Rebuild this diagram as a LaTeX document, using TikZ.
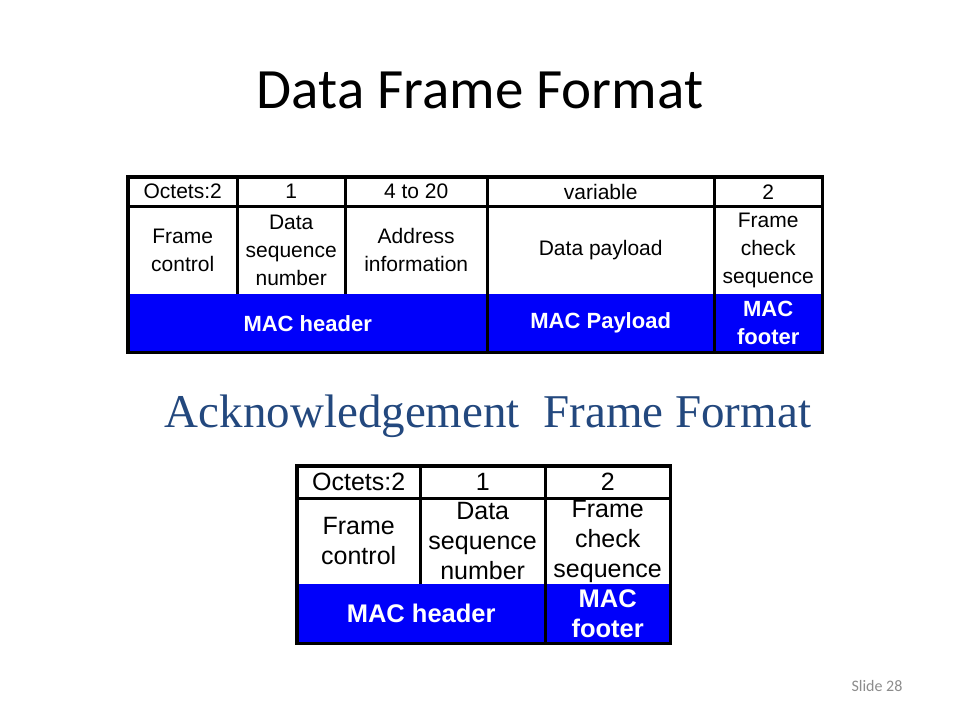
\documentclass[tikz,border=0pt]{standalone}
\usepackage{fontspec}
\setmainfont{Liberation Sans}
\newfontfamily\titlefont{Carlito}
\newfontfamily\serifttl{Liberation Serif}
\definecolor{ackblue}{RGB}{35,72,126}
\definecolor{slidegray}{RGB}{140,140,140}
\definecolor{macblue}{RGB}{0,0,250}
\begin{document}
\begin{tikzpicture}[x=1pt,y=-1pt,
  cell/.style={rectangle,inner sep=0pt,anchor=north west,align=center},
  tcell/.style={cell,font=\fontsize{21}{28}\selectfont},
  tblue/.style={cell,fill=macblue,text=white,font=\fontsize{22}{28}\bfseries\selectfont},
  bcell/.style={cell,font=\fontsize{25}{30}\selectfont},
  bblue/.style={cell,fill=macblue,text=white,font=\fontsize{25.5}{30}\bfseries\selectfont},
  grid/.style={line width=3pt,black},
  frame/.style={line width=3.2pt,black}]
\useasboundingbox[fill=white] (0,0) rectangle (960,720);

% Titles
\node[anchor=base,inner sep=0pt,font=\titlefont\fontsize{57}{60}\selectfont] (title) at (480,108) {Data Frame Format};
\node[anchor=base,inner sep=0pt,text=ackblue,font=\serifttl\fontsize{47}{50}\selectfont] (acktitle) at (488,427) {Acknowledgement\ \ Frame Format};
\node[anchor=base,inner sep=0pt,text=slidegray,font=\titlefont\fontsize{16}{18}\selectfont] (slideno) at (877,691) {Slide 28};

% ---------- Data frame table ----------
% row 1
\node[tcell,minimum width=109pt,minimum height=29pt] (a1) at (128,177) {Octets:2};
\node[tcell,minimum width=108pt,minimum height=29pt] (a2) at (237,177) {1};
\node[tcell,minimum width=142pt,minimum height=29pt] (a3) at (345,177) {4 to 20};
\node[tcell,minimum width=227pt,minimum height=29pt] (a4) at (487,177) {variable};
\node[tcell,minimum width=108pt,minimum height=29pt] (a5) at (714,177) {2};
% row 2
\node[tcell,minimum width=109pt,minimum height=88pt] (b1) at (128,206) {Frame\\control};
\node[tcell,minimum width=108pt,minimum height=88pt] (b2) at (237,206) {Data\\sequence\\number};
\node[tcell,minimum width=142pt,minimum height=88pt] (b3) at (345,206) {Address\\information};
\node[tcell,minimum width=227pt,minimum height=88pt] (b4) at (487,206) {Data payload};
\node[tcell,minimum width=108pt,minimum height=88pt] (b5) at (714,206) {Frame\\check\\sequence};
% row 3
\node[tblue,minimum width=359pt,minimum height=58pt] (c1) at (128,294) {MAC header};
\node[tblue,minimum width=227pt,minimum height=58pt] (c2) at (487,294) {MAC Payload};
\node[tblue,minimum width=108pt,minimum height=58pt] (c3) at (714,294) {MAC\\footer};
% grid lines
\draw[grid] (a1.south west) -- (a5.south east);
\draw[grid] (a1.north east) -- (b1.south east);
\draw[grid] (a2.north east) -- (b2.south east);
\draw[grid] (a3.north east) -- (c1.south east);
\draw[grid] (a4.north east) -- (c2.south east);
\draw[frame] (a1.north west) rectangle (c3.south east);

% ---------- Acknowledgement frame table ----------
\node[bcell,minimum width=123pt,minimum height=32pt] (d1) at (297,466) {Octets:2};
\node[bcell,minimum width=125pt,minimum height=32pt] (d2) at (420,466) {1};
\node[bcell,minimum width=125pt,minimum height=32pt] (d3) at (545,466) {2};
\node[bcell,minimum width=123pt,minimum height=86pt] (e1) at (297,498) {Frame\\control};
\node[bcell,minimum width=125pt,minimum height=86pt] (e2) at (420,498) {Data\\sequence\\number};
\node[bcell,minimum width=125pt,minimum height=86pt] (e3) at (545,498) {Frame\\check\\sequence};
\node[bblue,minimum width=248pt,minimum height=59pt] (f1) at (297,584) {MAC header};
\node[bblue,minimum width=125pt,minimum height=59pt] (f2) at (545,584) {MAC\\footer};
\draw[grid,line width=3.4pt] (d1.south west) -- (d3.south east);
\draw[grid,line width=3.4pt] (d1.north east) -- (e1.south east);
\draw[grid,line width=3.4pt] (d2.north east) -- (f1.south east);
\draw[frame,line width=3.6pt] (d1.north west) rectangle (f2.south east);
\end{tikzpicture}
\end{document}
